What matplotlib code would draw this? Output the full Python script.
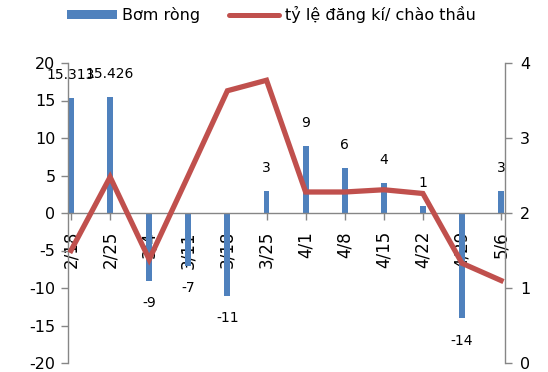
import matplotlib
matplotlib.use("Agg")
import matplotlib.pyplot as plt
from matplotlib.lines import Line2D
from matplotlib.patches import Patch

# Weekly data
weeks = ["2/18", "2/25", "3/4", "3/11", "3/18", "3/25",
         "4/1", "4/8", "4/15", "4/22", "4/29", "5/6"]
net_injection = [15.313, 15.426, -9, -7, -11, 3, 9, 6, 4, 1, -14, 3]
bid_to_offer = [1.5, 2.48, 1.38, 2.5, 3.63, 3.77, 2.28, 2.28, 2.31, 2.26, 1.33, 1.1]
bar_labels = ["15.313", "15.426", "-9", "-7", "-11", "3", "9", "6", "4", "1", "-14", "3"]

BLUE = "#4F81BD"
RED = "#C0504D"
GRAY = "#868686"
FONT = "DejaVu Sans"

plt.rcParams["font.family"] = FONT
plt.rcParams["axes.unicode_minus"] = False

fig = plt.figure(figsize=(5.48, 3.72), dpi=100)
ax = fig.add_axes([68 / 548, 9 / 372, 437 / 548, 300 / 372])

x = list(range(len(weeks)))
ax.bar(x, net_injection, width=0.15, color=BLUE, zorder=2)

for xi, v, lab in zip(x, net_injection, bar_labels):
    off = 16.5 if v >= 0 else -16.5
    ax.annotate(lab, (xi, v), xytext=(0, off), textcoords="offset points",
                ha="center", va="center", fontsize=10, color="black")

ax.set_xlim(-0.077, 11.1)
ax.set_ylim(-20, 20)
ax.set_yticks(range(-20, 21, 5))
ax.set_xticks(x)
ax.set_xticklabels(weeks)
ax.tick_params(axis="x", direction="out", length=5, width=1, color=GRAY, pad=8,
               labelrotation=90, labelsize=12)
ax.tick_params(axis="y", direction="out", length=5, width=1, color=GRAY,
               labelsize=11.5, pad=4)

ax.spines["top"].set_visible(False)
ax.spines["right"].set_visible(False)
ax.spines["bottom"].set_position(("data", 0))
for s in ("left", "bottom"):
    ax.spines[s].set_color(GRAY)
    ax.spines[s].set_linewidth(1)

ax2 = ax.twinx()
ax2.plot(x, bid_to_offer, color=RED, linewidth=3.8, solid_joinstyle="miter", zorder=3)
ax2.set_ylim(0, 4)
ax2.set_yticks(range(0, 5))
ax2.tick_params(axis="y", direction="out", length=5, width=1, color=GRAY,
                labelsize=11.5, pad=6)
for s in ("top", "left", "bottom"):
    ax2.spines[s].set_visible(False)
ax2.spines["right"].set_color(GRAY)
ax2.spines["right"].set_linewidth(1)

handles = [Patch(facecolor=BLUE, edgecolor="none"),
           Line2D([0], [0], color=RED, linewidth=3.6, solid_capstyle="round")]
fig.legend(handles, ["Bơm ròng", "tỷ lệ đăng kí/ chào thầu"],
           loc="upper left", bbox_to_anchor=(67 / 548, 1 - 6 / 372), ncol=2, frameon=False,
           fontsize=11.5, handlelength=3.1, handleheight=0.5, columnspacing=1.8,
           handletextpad=0.37, borderpad=0, borderaxespad=0)

fig.savefig("out.png", dpi=100)
